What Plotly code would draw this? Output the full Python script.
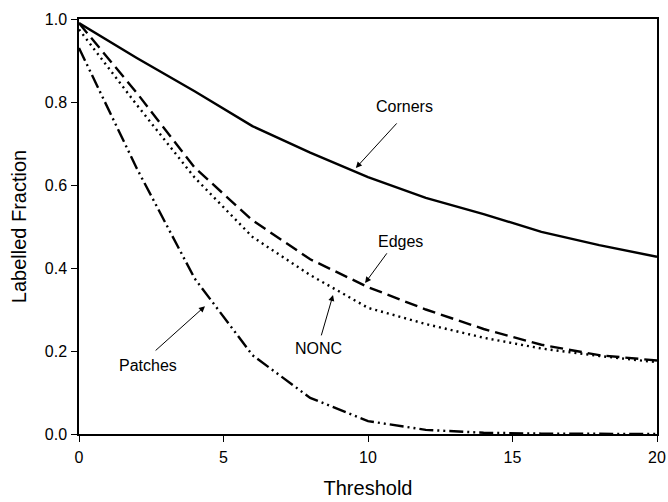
import plotly.graph_objects as go

threshold = [0, 2, 4, 6, 8, 10, 12, 14, 16, 18, 20]
corners = [0.99, 0.906, 0.826, 0.742, 0.678, 0.619, 0.569, 0.530, 0.487, 0.455, 0.427]
edges = [0.99, 0.822, 0.642, 0.515, 0.421, 0.354, 0.300, 0.253, 0.215, 0.190, 0.177]
nonc = [0.975, 0.793, 0.618, 0.475, 0.383, 0.304, 0.265, 0.232, 0.206, 0.188, 0.173]
patches = [0.93, 0.64, 0.375, 0.19, 0.087, 0.031, 0.010, 0.003, 0.001, 0.0, 0.0]

x_ticks = [0, 5, 10, 15, 20]
y_ticks = [0.0, 0.2, 0.4, 0.6, 0.8, 1.0]
y_tick_labels = ["0.0", "0.2", "0.4", "0.6", "0.8", "1.0"]

fig = go.Figure()
fig.add_trace(go.Scatter(x=threshold, y=corners, mode="lines", name="Corners",
                         line=dict(color="black", width=2.4)))
fig.add_trace(go.Scatter(x=threshold, y=edges, mode="lines", name="Edges",
                         line=dict(color="black", width=2.4, dash="13px,6px")))
fig.add_trace(go.Scatter(x=threshold, y=nonc, mode="lines", name="NONC",
                         line=dict(color="black", width=2.4, dash="2px,4px")))
fig.add_trace(go.Scatter(x=threshold, y=patches, mode="lines", name="Patches",
                         line=dict(color="black", width=2.4, dash="14px,4px,2px,4px,2px,4px")))

labels = [
    # text, head x, head y, tail x, tail y, text x, text y
    ("Corners", 9.58, 0.641, 11.04, 0.752, 11.28, 0.788),
    ("Edges", 9.90, 0.364, 10.69, 0.439, 11.11, 0.465),
    ("NONC", 8.79, 0.335, 8.37, 0.234, 8.27, 0.207),
    ("Patches", 4.36, 0.308, 2.60, 0.198, 2.39, 0.164),
]
for txt, hx, hy, tx, ty, lx, ly in labels:
    fig.add_annotation(x=hx, y=hy, ax=tx, ay=ty, xref="x", yref="y", axref="x", ayref="y",
                       text="", showarrow=True, arrowhead=2, arrowsize=1.2,
                       arrowwidth=1, arrowcolor="black")
    fig.add_annotation(x=lx, y=ly, xref="x", yref="y", text=txt, showarrow=False,
                       font=dict(size=16, color="black"))

axis_common = dict(showgrid=False, zeroline=False, showline=True, linecolor="black",
                   linewidth=1.5, mirror=True, ticks="outside", ticklen=6,
                   tickcolor="black", tickwidth=1.2, automargin=False,
                   tickfont=dict(size=16, color="black"))

fig.update_layout(
    width=668, height=502,
    margin=dict(l=79, r=11, t=19, b=68),
    paper_bgcolor="white", plot_bgcolor="white",
    showlegend=False,
    font=dict(family="Liberation Sans, Arial, sans-serif", color="black"),
    xaxis=dict(range=[0, 20], tickvals=x_ticks, ticklabelstandoff=2,
               title=dict(text="Threshold", font=dict(size=20), standoff=16),
               **axis_common),
    yaxis=dict(range=[0, 1.0], tickvals=y_ticks, ticktext=y_tick_labels,
               ticklabelstandoff=1,
               title=dict(text="Labelled Fraction", font=dict(size=20), standoff=13),
               **axis_common),
)

# Remove the browser's default 8px body margin so the figure fills the window.
fig.write_html(
    "out.html",
    config={"displayModeBar": False},
    post_script="document.body.style.margin='0';document.body.style.overflow='hidden';",
)
